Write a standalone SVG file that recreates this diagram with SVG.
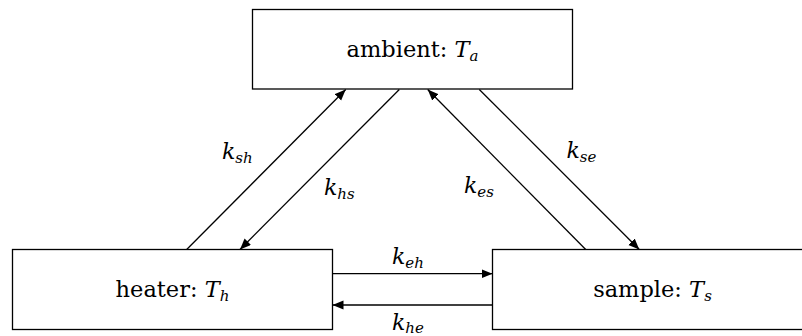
<svg xmlns="http://www.w3.org/2000/svg" width="802" height="336" viewBox="0 0 802 336" font-family="'DejaVu Serif', serif">
  <style>
    .box { fill: #fff; stroke: #000; stroke-width: 1.3; }
    .lbl { font-family: 'DejaVu Serif', serif; font-size: 22.5px; fill: #000; }
    .it { font-style: italic; }
    .sub { font-size: 15px; font-style: italic; }
    .k { font-family: 'DejaVu Serif', serif; font-size: 22px; font-style: italic; fill: #000; }
    .edge { stroke: #000; stroke-width: 1.3; fill: none; marker-end: url(#head); }
  </style>
  <defs>
    <marker id="head" markerUnits="userSpaceOnUse" markerWidth="12" markerHeight="10" refX="11" refY="4.5" orient="auto">
      <path d="M0,0 L11,4.5 L0,9 Z" fill="#000"/>
    </marker>
  </defs>
  <rect width="802" height="336" fill="#fff"/>

  <g id="connectors">
    <line class="edge" x1="186.7" y1="249.5" x2="345.7" y2="89.5"/>
    <line class="edge" x1="399.3" y1="89.5" x2="240" y2="249.5"/>
    <line class="edge" x1="585.7" y1="249.5" x2="427.7" y2="89.5"/>
    <line class="edge" x1="479.3" y1="89.5" x2="639.3" y2="249.5"/>
    <line class="edge" x1="332.5" y1="273.7" x2="492.5" y2="273.7"/>
    <line class="edge" x1="492.5" y1="305" x2="332.5" y2="305"/>
    <text class="k" x="222" y="158.5">k<tspan class="sub" dy="4">sh</tspan></text>
    <text class="k" x="324" y="195">k<tspan class="sub" dy="4">hs</tspan></text>
    <text class="k" x="464" y="193">k<tspan class="sub" dy="4">es</tspan></text>
    <text class="k" x="566.5" y="158">k<tspan class="sub" dy="4">se</tspan></text>
    <text class="k" x="392" y="264">k<tspan class="sub" dy="4">eh</tspan></text>
    <text class="k" x="392" y="329.5">k<tspan class="sub" dy="3">he</tspan></text>
  </g>

  <g id="ambient">
    <rect class="box" x="252.5" y="9.5" width="320" height="79.5"/>
    <text class="lbl" x="412.5" y="57" text-anchor="middle">ambient: <tspan class="it">T</tspan><tspan class="sub" dy="4">a</tspan></text>
  </g>

  <g id="heater">
    <rect class="box" x="12.5" y="249.5" width="320" height="80"/>
    <text class="lbl" x="172.5" y="297" text-anchor="middle">heater: <tspan class="it">T</tspan><tspan class="sub" dy="4">h</tspan></text>
  </g>

  <g id="sample">
    <rect class="box" x="492.5" y="249.5" width="320" height="80"/>
    <text class="lbl" x="652.5" y="297" text-anchor="middle">sample: <tspan class="it">T</tspan><tspan class="sub" dy="4">s</tspan></text>
  </g>
</svg>
